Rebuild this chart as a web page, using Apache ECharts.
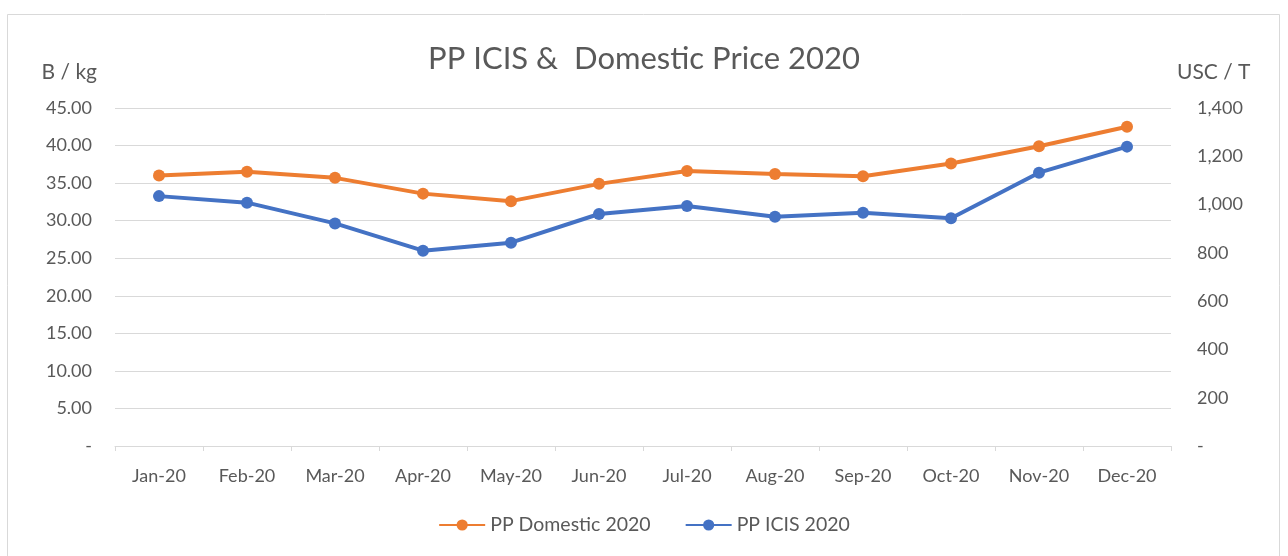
<!DOCTYPE html>
<html>
<head>
<meta charset="utf-8">
<script src="https://cdn.jsdelivr.net/npm/echarts@6/dist/echarts.min.js"></script>
<style>html,body{margin:0;padding:0;background:#fff;}#c{width:1288px;height:556px;}</style>
</head>
<body>
<div id="c"></div>
<script>
const categories = ['Jan-20','Feb-20','Mar-20','Apr-20','May-20','Jun-20','Jul-20','Aug-20','Sep-20','Oct-20','Nov-20','Dec-20'];
const domestic = [36.0, 36.5, 35.7, 33.6, 32.6, 34.9, 36.6, 36.2, 35.9, 37.6, 39.9, 42.5];
const icis = [1035, 1008, 922, 809, 842, 961, 994, 950, 966, 943, 1132, 1240];
const leftTicks = {min: 0, max: 45, interval: 5};
const rightTicks = {min: 0, max: 1400, interval: 200};
const titleText = 'PP ICIS &  Domestic Price 2020';
const leftName = 'B / kg';
const rightName = 'USC / T';
const seriesNames = ['PP Domestic 2020', 'PP ICIS 2020'];

const FONT = 'Lato';
const TXT = '#595959';
const chart = echarts.init(document.getElementById('c'), null, {renderer: 'canvas'});
chart.setOption({
  animation: false,
  backgroundColor: '#fff',
  textStyle: {fontFamily: FONT},
  graphic: [{
    type: 'rect', shape: {x: 7.5, y: 14.5, width: 1272, height: 560},
    style: {fill: 'none', stroke: '#d9d9d9', lineWidth: 1}, silent: true, z: -1
  }],
  title: {
    text: titleText, left: 'center', top: 38,
    textStyle: {fontFamily: FONT, fontSize: 31, fontWeight: 'normal', color: TXT}
  },
  legend: {
    bottom: 16, left: 'center', itemWidth: 46, itemHeight: 14, itemGap: 34,
    textStyle: {fontFamily: FONT, fontSize: 19.5, color: TXT},
    data: seriesNames
  },
  grid: {left: 115, right: 117, top: 108, bottom: 110},
  xAxis: {
    type: 'category', data: categories, boundaryGap: true,
    axisLine: {lineStyle: {color: '#d9d9d9', width: 1}},
    axisTick: {show: true, length: 5, lineStyle: {color: '#d9d9d9'}},
    axisLabel: {color: TXT, fontSize: 18, fontFamily: FONT, margin: 21}
  },
  yAxis: [{
    type: 'value', min: leftTicks.min, max: leftTicks.max, interval: leftTicks.interval,
    name: leftName, nameLocation: 'end', nameGap: 25,
    nameTextStyle: {color: TXT, fontSize: 21, fontFamily: FONT, align: 'right', padding: [0, 18, 0, 0]},
    axisLine: {show: false}, axisTick: {show: false},
    splitLine: {lineStyle: {color: '#d9d9d9', width: 1}},
    axisLabel: {color: TXT, fontSize: 18, fontFamily: FONT, margin: 23,
      formatter: v => v === 0 ? '-' : v.toFixed(2)}
  }, {
    type: 'value', min: rightTicks.min, max: rightTicks.max, interval: rightTicks.interval,
    position: 'right',
    name: rightName, nameLocation: 'end', nameGap: 25,
    nameTextStyle: {color: TXT, fontSize: 21, fontFamily: FONT, align: 'left', padding: [0, 0, 0, 6]},
    axisLine: {show: false}, axisTick: {show: false}, splitLine: {show: false},
    axisLabel: {color: TXT, fontSize: 18, fontFamily: FONT, margin: 26,
      formatter: v => v === 0 ? '-' : v.toLocaleString('en-US')}
  }],
  series: [{
    name: seriesNames[0], type: 'line', yAxisIndex: 0, data: domestic,
    symbol: 'circle', symbolSize: 12,
    lineStyle: {color: '#ED7D31', width: 4},
    itemStyle: {color: '#ED7D31'}
  }, {
    name: seriesNames[1], type: 'line', yAxisIndex: 1, data: icis,
    symbol: 'circle', symbolSize: 12,
    lineStyle: {color: '#4472C4', width: 4},
    itemStyle: {color: '#4472C4'}
  }]
});
</script>
</body>
</html>
